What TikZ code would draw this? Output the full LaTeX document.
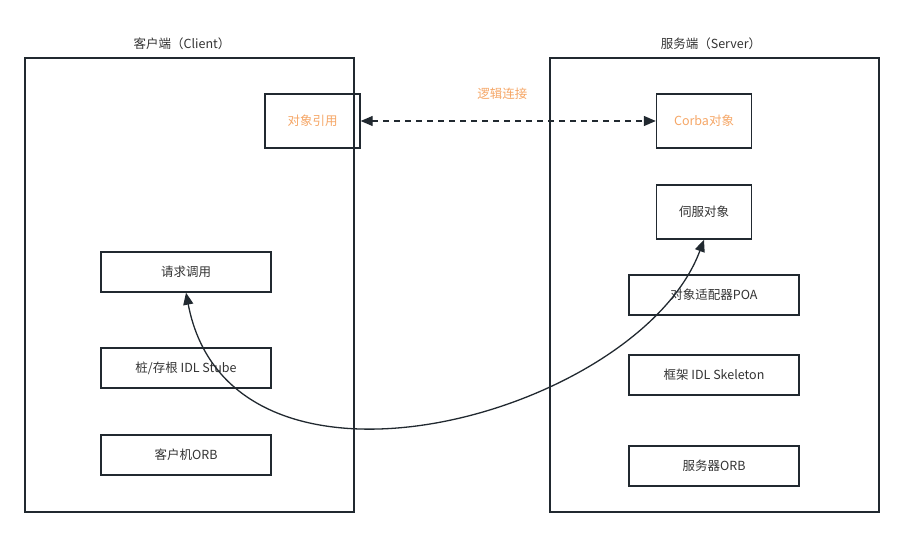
\documentclass[tikz,border=0pt]{standalone}
\usepackage{fontspec}
\newfontfamily\cjk{Noto Sans CJK SC}
\usepackage{xcolor}
\usepackage{tikz}
\usetikzlibrary{arrows.meta}
\definecolor{linecol}{RGB}{33,41,48}
\definecolor{textcol}{RGB}{51,51,51}
\definecolor{linkcol}{RGB}{245,166,102}

\begin{document}
\begin{tikzpicture}[x=1pt,y=-1pt]
  % Define styles
  \tikzstyle{side} = [draw=linecol, line width=1.4pt, minimum width=329pt, minimum height=454pt, inner sep=0pt]
  \tikzstyle{obj} = [draw=linecol, line width=1.4pt, minimum width=95pt, minimum height=54pt, inner sep=0pt, font=\cjk\fontsize{12.5}{14}\selectfont, text=textcol]
  \tikzstyle{layer} = [draw=linecol, line width=1.4pt, minimum width=170pt, minimum height=40pt, inner sep=0pt, font=\cjk\fontsize{12.5}{14}\selectfont, text=textcol]
  \tikzstyle{title} = [font=\cjk\fontsize{12.5}{14}\selectfont, text=textcol]
  \tikzstyle{edge} = [line width=1.3pt, draw=linecol, {Triangle[width=10pt,length=12pt]}-{Triangle[width=10pt,length=12pt]}]

  \useasboundingbox (0,0) rectangle (904,537);

  % Sides
  \node[side] (client) at (189.5,285) {};
  \node[side] (server) at (714.5,285) {};
  \node[title] (clientlbl) at (182,44) {客户端（Client）};
  \node[title] (serverlbl) at (711,44) {服务端（Server）};

  % Client nodes
  \node[obj, text=linkcol] (ref) at (312.5,121) {对象引用};
  \node[layer] (req) at (186,272) {请求调用};
  \node[layer] (stub) at (186,368) {桩/存根 IDL Stube};
  \node[layer] (corb) at (186,455) {客户机ORB};

  % Server nodes
  \node[obj, text=linkcol] (corba) at (704,121) {Corba对象};
  \node[obj] (servant) at (704,212) {伺服对象};
  \node[layer] (poa) at (714,295) {对象适配器POA};
  \node[layer] (skel) at (714,375) {框架 IDL Skeleton};
  \node[layer] (sorb) at (714,466) {服务器ORB};

  % Edges
  \draw[edge, dash pattern=on 6pt off 5pt] (ref) -- node[above=17pt, xshift=-6pt, title, text=linkcol] {逻辑连接} (corba);
  \draw[edge] (req.south) .. controls +(45,235) and +(-65,175) .. (servant.south);
\end{tikzpicture}
\end{document}
